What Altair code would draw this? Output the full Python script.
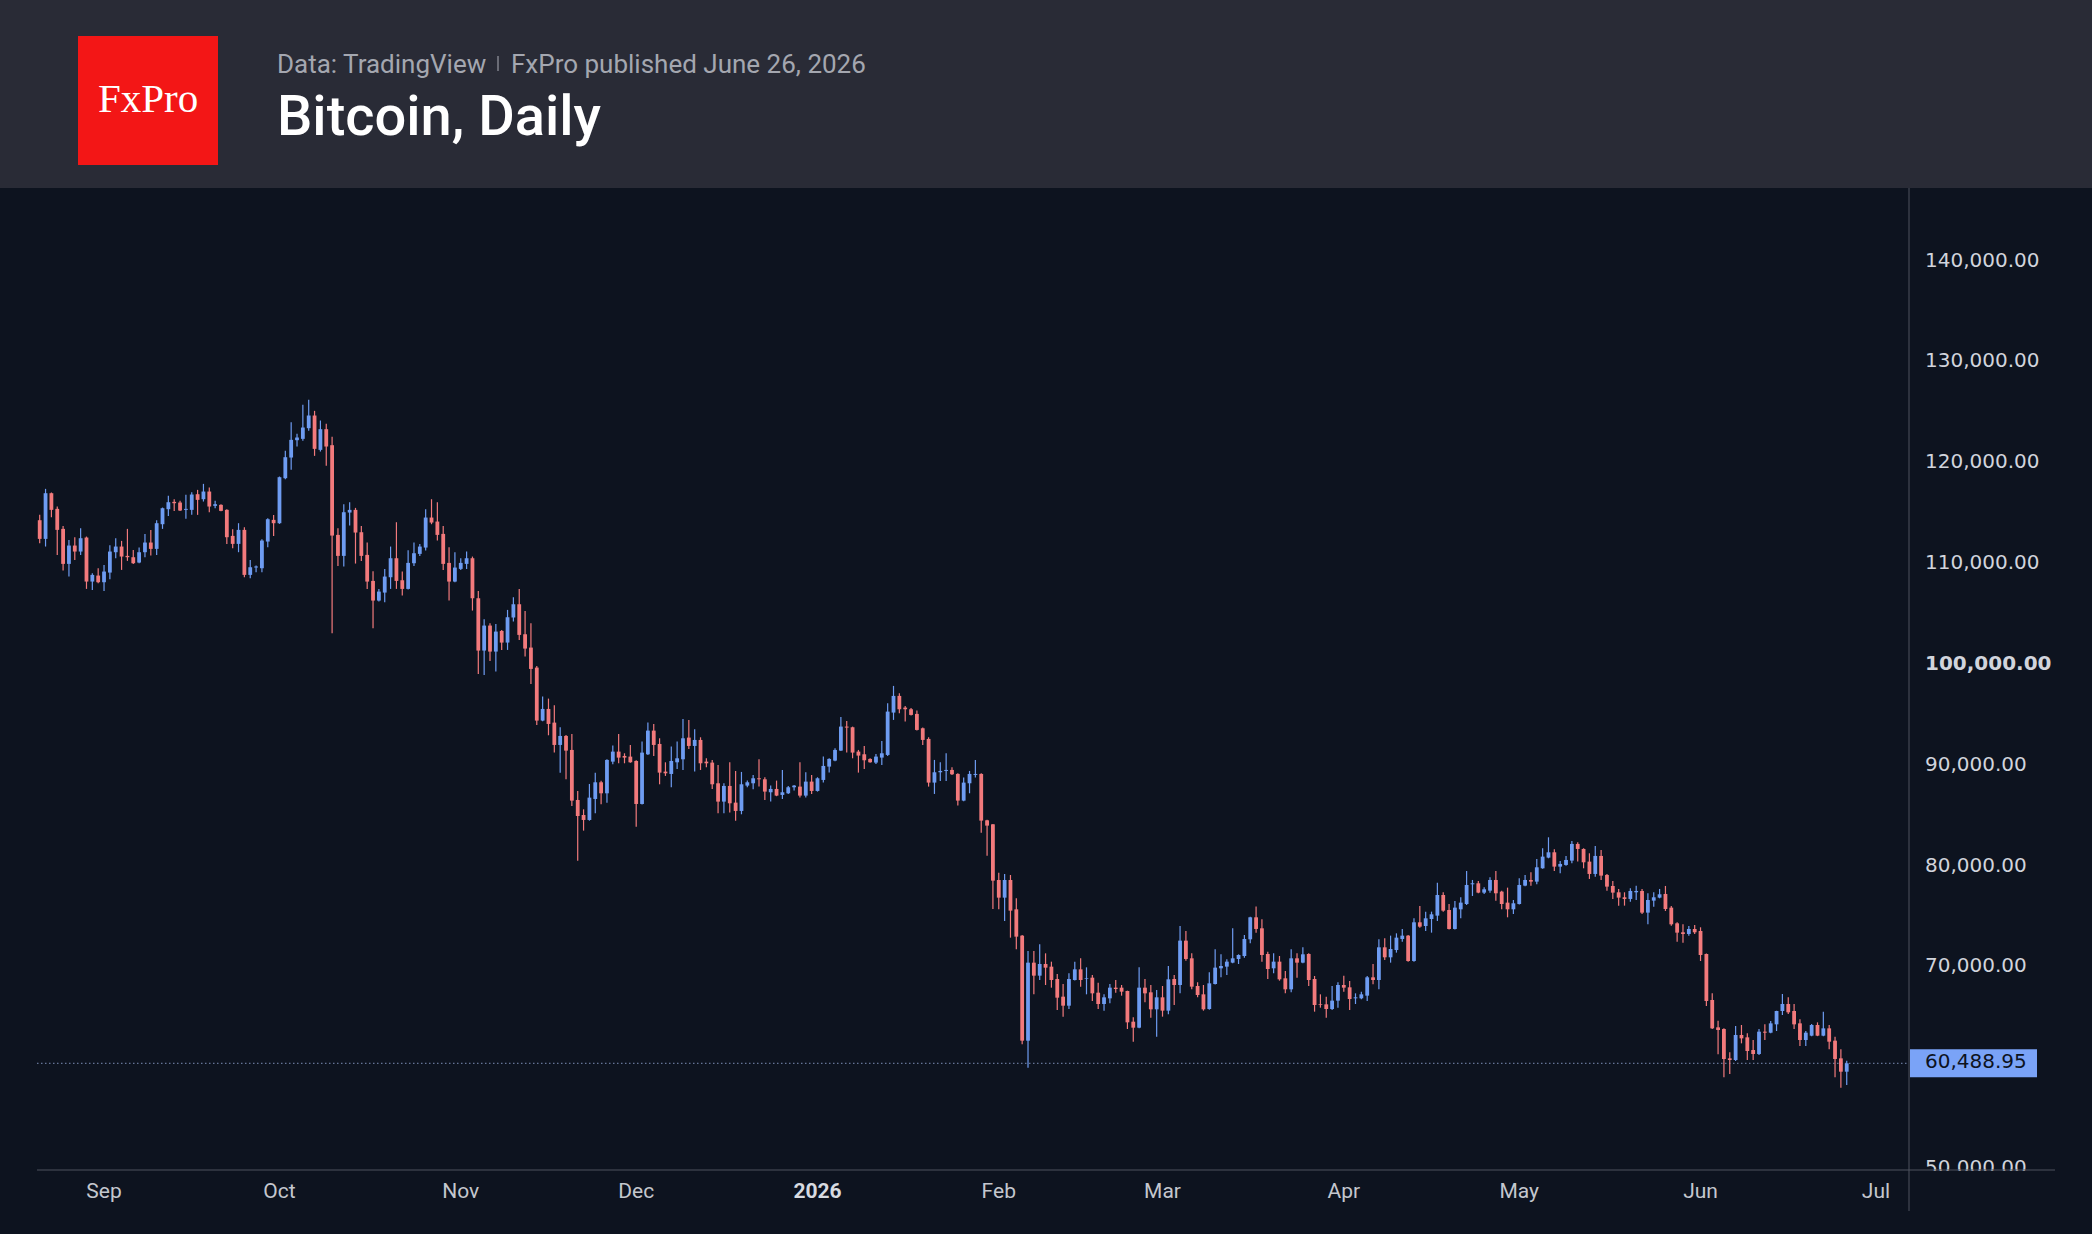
import altair as alt
import numpy as np
import pandas as pd

W, H = 2092, 1234
BG = "#0d131f"
HEADER_BG = "#292b36"
UP = "#6e9cf2"
DOWN = "#f27a7c"
GRID_LINE = "#4f535e"
LABEL = "#d1d4dc"

# Daily BTC candles, one per calendar day starting here
FIRST_DAY = "2025-08-21"

OPEN = [
    114350, 112498, 117029, 115475, 113491, 110018, 111837, 111242, 112631, 108266,
    108861, 108200, 109158, 111176, 111738, 110812, 110680, 110151, 111176, 112135,
    111507, 113953, 115442, 116169, 116103, 115376, 115376, 116930, 116434, 117194,
    115772, 115872, 115376, 112796, 112002, 113391, 108927, 109654, 109588, 112234,
    114383, 114052, 118516, 120567, 122286, 122419, 123477, 124734, 121327, 123378,
    121790, 112894, 110812, 115110, 115375, 113159, 110911, 108330, 106380, 107173,
    108694, 110580, 108396, 107537, 110084, 111010, 111638, 114614, 114217, 112993,
    110117, 108264, 109522, 110018, 110580, 106611, 101420, 103901, 101321, 103371,
    102214, 104694, 106017, 103041, 101718, 99734, 94476, 95633, 94277, 92061,
    92954, 91565, 86605, 85117, 84621, 86704, 88358, 87266, 90407, 91400,
    90970, 90904, 90474, 86208, 91135, 93483, 92161, 89416, 89184, 90341,
    90639, 92789, 91962, 92558, 90407, 90311, 88260, 86442, 87996, 86342,
    85515, 88029, 88260, 88756, 88657, 87368, 87698, 87103, 87268, 87864,
    87930, 87037, 88426, 87500, 88591, 89914, 90509, 91501, 93882, 93816,
    91402, 91137, 90674, 90311, 90807, 91071, 95271, 96925, 95767, 95602,
    95139, 93717, 92659, 88327, 89352, 89484, 89583, 89186, 86541, 88260,
    89087, 89186, 84589, 84192, 78670, 76917, 78670, 75760, 73147, 62731,
    70469, 69180, 70337, 70073, 68849, 67097, 66203, 68750, 69808, 68849,
    68981, 67493, 66368, 66931, 67989, 67989, 67659, 64616, 64021, 67989,
    67528, 65841, 67032, 65709, 68850, 68255, 72653, 70901, 68156, 67329,
    65874, 68354, 69909, 70074, 70471, 70835, 71132, 72786, 74968, 73877,
    71331, 69909, 70570, 68917, 67825, 70901, 70471, 71331, 68850, 66337,
    66337, 65874, 66701, 68255, 68024, 66932, 66932, 67197, 69015, 68750,
    71991, 71000, 71727, 72818, 73149, 70636, 74472, 74108, 74802, 75133,
    77183, 75695, 73810, 75761, 76290, 78241, 78341, 77415, 77613, 78671,
    77514, 76423, 75761, 76290, 78109, 78671, 78506, 79829, 80887, 81416,
    79994, 80160, 80589, 82243, 81747, 80490, 79267, 81053, 79167, 78076,
    77448, 76952, 76787, 77448, 77580, 75431, 76621, 76919, 77283, 75927,
    74372, 73480, 73314, 73810, 73612, 71330, 66766, 64054, 63889, 60980,
    60814, 63294, 63063, 61806, 61409, 63625, 63525, 64352, 65675, 66369,
    65675, 64451, 62798, 63228, 64286, 63228, 63955, 62732, 60980, 59656,
]

HIGH = [
    114880, 117459, 117095, 115706, 113788, 112399, 112664, 113557, 112730, 109092,
    109588, 109919, 111870, 112565, 112300, 113491, 111407, 111639, 112995, 113391,
    114350, 115607, 116764, 116434, 116268, 116864, 117128, 117360, 117955, 117591,
    116268, 115938, 115442, 113458, 114053, 113656, 110415, 109853, 112465, 114549,
    114879, 118682, 121228, 124072, 122915, 125792, 126288, 125196, 124237, 123907,
    122617, 113556, 115937, 116135, 115573, 113788, 112134, 109290, 107537, 109522,
    111737, 114151, 109257, 111373, 112134, 112002, 115441, 116433, 116135, 113788,
    111671, 111175, 110580, 111241, 110745, 107339, 104529, 104132, 104066, 103470,
    105455, 106711, 107538, 105356, 104132, 99899, 96857, 96658, 95997, 93814,
    93053, 93152, 87498, 85679, 88192, 89316, 88523, 90639, 91995, 93152,
    91234, 92061, 90540, 92392, 94277, 94145, 92723, 90341, 91896, 92392,
    94641, 94542, 93616, 92822, 90738, 90575, 90079, 88260, 90343, 89484,
    89385, 88525, 89087, 90641, 88856, 88029, 88525, 89583, 87996, 88095,
    90343, 89351, 89087, 88856, 90906, 90740, 91732, 94841, 94444, 93880,
    91567, 91964, 90740, 91170, 92460, 96197, 97917, 97189, 95932, 95734,
    95469, 93780, 92824, 90575, 90344, 91237, 89848, 89250, 88822, 89484,
    90575, 89252, 84650, 84225, 79397, 79265, 79166, 76851, 73213, 71627,
    71627, 72288, 71396, 70568, 69345, 68353, 69411, 70568, 70900, 70006,
    69246, 68485, 67328, 68353, 68750, 68254, 67692, 65046, 70006, 68849,
    68255, 67759, 68156, 70140, 69247, 74108, 73612, 71397, 68520, 68255,
    69512, 71794, 71298, 70801, 73877, 71298, 73215, 75020, 76027, 74770,
    71562, 71397, 71132, 69644, 71794, 71397, 71992, 71397, 69148, 67329,
    67098, 68156, 68520, 69181, 68652, 67428, 67594, 69148, 70338, 72785,
    72884, 73149, 73380, 73810, 73215, 74868, 76092, 75530, 75530, 78407,
    77448, 76290, 76588, 76952, 79564, 78671, 78572, 77944, 78936, 79564,
    77613, 77911, 76687, 78837, 79168, 79432, 80755, 81813, 82904, 81714,
    80556, 81052, 82541, 82408, 81813, 81317, 82045, 81648, 79267, 78572,
    77779, 77448, 77845, 78109, 77779, 77349, 77448, 77779, 78076, 76092,
    74472, 74273, 74108, 74207, 73976, 71380, 67428, 64716, 63955, 61575,
    64187, 64286, 63459, 62798, 63889, 64352, 64683, 65700, 67362, 67031,
    66369, 64848, 63691, 64385, 64550, 65609, 64286, 63129, 61872, 60748,
]

LOW = [
    112069, 111738, 114648, 110911, 109357, 108762, 110415, 110911, 107538, 107439,
    108100, 107340, 108497, 110581, 109423, 110316, 110018, 110085, 110680, 110845,
    110911, 113491, 114780, 115276, 115276, 114483, 114880, 114880, 116202, 115144,
    115541, 115250, 112002, 111573, 111176, 108695, 108596, 109191, 109191, 111672,
    112795, 113986, 118417, 119343, 121658, 122220, 123212, 120732, 121162, 119740,
    103139, 109819, 109753, 113821, 110051, 110315, 107537, 103635, 106281, 106215,
    107537, 107537, 106875, 107470, 109819, 110812, 111340, 113953, 112332, 109422,
    106380, 108200, 109422, 109522, 105388, 99100, 99006, 100395, 99337, 101486,
    101486, 104297, 102478, 100825, 98113, 94045, 94400, 93020, 91301, 89316,
    88655, 86010, 80587, 83563, 84550, 85282, 86175, 86340, 90143, 90242,
    90242, 90308, 83960, 86150, 91069, 90970, 88159, 88986, 87862, 89680,
    89581, 91665, 89416, 89581, 89845, 87698, 85284, 85284, 85350, 84556,
    85185, 87864, 87665, 87930, 86607, 86442, 86980, 86706, 87202, 87533,
    86839, 86839, 87202, 87434, 88327, 89318, 90450, 91450, 91303, 90740,
    89318, 89682, 90300, 90178, 90079, 90972, 94544, 95205, 94378, 94973,
    93500, 92063, 87930, 87202, 88492, 88492, 89087, 86044, 86480, 87268,
    88822, 83366, 81084, 75793, 75760, 74602, 72949, 71792, 62368, 60053,
    67328, 68750, 68254, 67989, 65773, 65112, 65872, 68700, 68088, 67328,
    66667, 65872, 65707, 66434, 67493, 67196, 63889, 62632, 63955, 66535,
    65014, 63129, 65114, 65345, 66271, 67428, 70669, 67825, 67032, 65709,
    65800, 68300, 69016, 69247, 70420, 70338, 70967, 72389, 73447, 70570,
    68850, 69413, 68685, 67428, 67528, 68983, 70420, 68156, 65610, 66006,
    65014, 65775, 66006, 67594, 65775, 66370, 66833, 66668, 68320, 67824,
    70735, 70470, 71463, 72554, 70570, 70570, 73942, 73612, 73446, 74604,
    75530, 73760, 73760, 74868, 76191, 77084, 77349, 77283, 77415, 76621,
    75761, 74967, 75298, 76240, 78060, 78109, 78241, 79780, 80821, 79564,
    79333, 80093, 80325, 80490, 79829, 78771, 79002, 78671, 77613, 76787,
    76125, 76125, 76522, 76687, 75298, 74273, 76026, 76853, 75596, 74141,
    72554, 72455, 73149, 73314, 70636, 66171, 63900, 61376, 59094, 59425,
    60715, 62467, 60814, 60814, 61310, 62798, 63459, 63691, 65278, 65377,
    63889, 62203, 62203, 63180, 63180, 63180, 61872, 59094, 58069, 58333,
]

CLOSE = [
    112498, 117029, 115376, 113391, 110018, 111837, 111242, 112565, 108266, 108927,
    108200, 109258, 111242, 111738, 110746, 110680, 110085, 111176, 112135, 111507,
    114053, 115541, 116136, 116037, 115310, 115475, 116897, 116368, 117194, 115706,
    115938, 115276, 112664, 112002, 113391, 108927, 109687, 109754, 112333, 114450,
    114052, 118616, 120600, 122319, 122551, 123543, 124734, 121427, 123378, 121658,
    112828, 110812, 115143, 115375, 113126, 110812, 108264, 106380, 107272, 108761,
    110580, 108330, 107537, 110117, 111076, 111737, 114614, 114118, 112894, 110018,
    108264, 109654, 110117, 110580, 106611, 101420, 103901, 101321, 103305, 102214,
    104727, 106017, 102975, 101618, 99601, 94476, 95633, 94145, 92061, 92954,
    91499, 86539, 85017, 84621, 86836, 88358, 87266, 90573, 91400, 90805,
    90805, 90341, 86208, 91301, 93483, 92061, 89316, 89250, 90474, 90738,
    92723, 91962, 92558, 90242, 90242, 88161, 86442, 87996, 86276, 85515,
    88161, 88360, 88756, 88657, 87434, 87698, 87037, 87368, 87864, 88029,
    87037, 88426, 87500, 88756, 89980, 90674, 91567, 93882, 93783, 91303,
    91005, 90542, 90343, 90906, 91236, 95370, 96925, 95602, 95602, 95040,
    93551, 92559, 88327, 89352, 89484, 89583, 89153, 86541, 88327, 89186,
    89186, 84556, 84060, 78604, 76917, 78670, 75628, 73048, 62731, 70469,
    69180, 70337, 69973, 68750, 66997, 66203, 68849, 69808, 68750, 68915,
    67427, 66368, 67030, 67989, 67857, 67593, 64550, 64021, 67989, 67427,
    65841, 67032, 65709, 68817, 68255, 72653, 70835, 68090, 67263, 65841,
    68420, 69975, 70140, 70570, 70901, 71231, 72819, 74968, 73811, 71231,
    69842, 70570, 68817, 67825, 70901, 70471, 71298, 68751, 66271, 66271,
    65874, 66701, 68255, 67991, 66866, 67032, 67329, 69016, 68750, 71991,
    71000, 71826, 72950, 73149, 70636, 74472, 74042, 74868, 75265, 77183,
    75629, 73810, 75927, 76423, 78175, 78341, 77415, 77745, 78671, 77349,
    76290, 75761, 76357, 78175, 78671, 78506, 79928, 80986, 81416, 79994,
    80259, 80656, 82243, 81747, 80424, 79267, 81053, 79101, 78010, 77415,
    76919, 76787, 77580, 77580, 75431, 76687, 76952, 77250, 75794, 74273,
    73446, 73314, 73810, 73480, 71231, 66667, 63955, 63790, 60913, 60814,
    63294, 62963, 61707, 61409, 63625, 63525, 64451, 65675, 66369, 65543,
    64352, 62798, 63525, 64286, 63228, 63955, 62632, 60913, 59656, 60488.95,
]

LAST_PRICE = 60488.95
# 60,000 is not listed: the last-price tag sits on that level
PRICE_TICKS = [140000, 130000, 120000, 110000, 100000, 90000, 80000, 70000, 50000]
MONTH_STARTS = ["2025-09-01", "2025-10-01", "2025-11-01", "2025-12-01", "2026-01-01",
                "2026-02-01", "2026-03-01", "2026-04-01", "2026-05-01", "2026-06-01",
                "2026-07-01"]
MONTH_LABELS = ["Sep", "Oct", "Nov", "Dec", "2026", "Feb", "Mar", "Apr", "May", "Jun", "Jul"]

candles = pd.DataFrame({"open": OPEN, "high": HIGH, "low": LOW, "close": CLOSE})
candles["date"] = pd.date_range(FIRST_DAY, periods=len(OPEN), freq="D").strftime("%Y-%m-%d")
candles["dir"] = np.where(candles["close"] >= candles["open"], "up", "down")

ticks = pd.DataFrame({"price": PRICE_TICKS})
ticks["label"] = [f"{p:,.2f}" for p in PRICE_TICKS]
months = pd.DataFrame({"date": MONTH_STARTS, "label": MONTH_LABELS})
last = pd.DataFrame({"p": [LAST_PRICE], "label": [f"{LAST_PRICE:,.2f}"]})

x_scale = alt.Scale(
    type="utc",
    padding=0,
    domain=[
        alt.DateTime(year=2025, month=8, date=14, hours=5, minutes=4, utc=True),
        alt.DateTime(year=2026, month=8, date=6, hours=22, minutes=35, utc=True),
    ],
)
y_scale = alt.Scale(domain=[43559, 165943], zero=False, nice=False, padding=0)
X = alt.X("date:T", scale=x_scale, axis=None)
color = alt.Color("dir:N", scale=alt.Scale(domain=["up", "down"], range=[UP, DOWN]), legend=None)

one = alt.Data(values=[{}])


def box(x0, x1, y0, y1, fill):
    return alt.Chart(one).mark_rect(color=fill).encode(
        x=alt.value(x0), x2=alt.value(x1), y=alt.value(y0), y2=alt.value(y1))


def line(x0, x1, y0, y1, stroke, width=1):
    return alt.Chart(one).mark_rule(color=stroke, strokeWidth=width).encode(
        x=alt.value(x0), x2=alt.value(x1), y=alt.value(y0), y2=alt.value(y1))


def label(text, x, y, **style):
    return alt.Chart(one).mark_text(text=text, **style).encode(x=alt.value(x), y=alt.value(y))


# header band with logo and titles
header = box(0, W, 0, 188, HEADER_BG)
logo = box(78, 218, 36, 165, "#f31616")
logo_text = label("FxPro", 148, 112, font="Liberation Serif", fontSize=41, color="white",
                  align="center", baseline="alphabetic")
source = label("Data: TradingView", 277, 73, font="Roboto", fontSize=26, color="#a4a7b0",
               align="left", baseline="alphabetic")
divider = line(498, 498, 56, 71, "#80838c", 1.5)
published = label("FxPro published June 26, 2026", 511, 73, font="Roboto", fontSize=26,
                  color="#a4a7b0", align="left", baseline="alphabetic")
title = label("Bitcoin, Daily", 277, 135, font="Roboto", fontSize=56, fontWeight=500,
              color="white", align="left", baseline="alphabetic")

# chart frame
price_axis_edge = line(1909, 1909, 188, 1211, GRID_LINE)
last_line = alt.Chart(last).mark_rule(color="#7d8fb8", strokeDash=[1.5, 2.5], strokeWidth=1).encode(
    y=alt.Y("p:Q", scale=y_scale, axis=None), x=alt.value(37), x2=alt.value(1909))

# candles
wicks = alt.Chart(candles).mark_rule(strokeWidth=1.2).encode(
    x=X, y=alt.Y("low:Q", scale=y_scale, axis=None), y2="high:Q", color=color)
bodies = alt.Chart(candles).mark_bar(size=3.8).encode(
    x=X, y=alt.Y("open:Q", scale=y_scale, axis=None), y2="close:Q", color=color)

# price scale labels
tick_y = alt.Y("price:Q", scale=y_scale, axis=None)
tick_labels = alt.Chart(ticks).transform_filter(alt.datum.price != 100000).mark_text(
    font="DejaVu Sans", fontSize=20, color=LABEL, align="left", baseline="middle", dy=-1
).encode(y=tick_y, x=alt.value(1925), text="label:N")
tick_bold = alt.Chart(ticks).transform_filter(alt.datum.price == 100000).mark_text(
    font="DejaVu Sans", fontSize=20, fontWeight="bold", color=LABEL, align="left",
    baseline="middle", dy=-1
).encode(y=tick_y, x=alt.value(1925), text="label:N")
below_axis = box(1910, W, 1171, H, BG)
time_axis = line(37, 2055, 1170, 1170, GRID_LINE)

# time scale labels
month_labels = alt.Chart(months).transform_filter(alt.datum.label != "2026").mark_text(
    font="Roboto", fontSize=21, color="#c4c7ce", align="center", baseline="middle"
).encode(x=X, y=alt.value(1192), text="label:N")
year_label = alt.Chart(months).transform_filter(alt.datum.label == "2026").mark_text(
    font="Roboto", fontSize=21, fontWeight="bold", color="#d8dbe1", align="center",
    baseline="middle"
).encode(x=X, y=alt.value(1192), text="label:N")

# last price marker
last_box = alt.Chart(last).mark_rect(height=28, color="#7aa3f7").encode(
    y=alt.Y("p:Q", scale=y_scale, axis=None), x=alt.value(1910), x2=alt.value(2037))
last_text = alt.Chart(last).mark_text(
    font="DejaVu Sans", fontSize=20, color="#0d131f", align="left", baseline="middle", dy=-1
).encode(y=alt.Y("p:Q", scale=y_scale, axis=None), x=alt.value(1925), text="label:N")

chart = alt.layer(
    header, logo, logo_text, source, divider, published, title,
    price_axis_edge, last_line, wicks, bodies,
    tick_labels, tick_bold, below_axis, time_axis,
    month_labels, year_label, last_box, last_text,
).properties(
    width=W, height=H, padding=0, background=BG,
    autosize=alt.AutoSizeParams(type="none"),
).configure_view(strokeWidth=0)

chart.save("out.html", embed_options={"renderer": "svg", "actions": False})
